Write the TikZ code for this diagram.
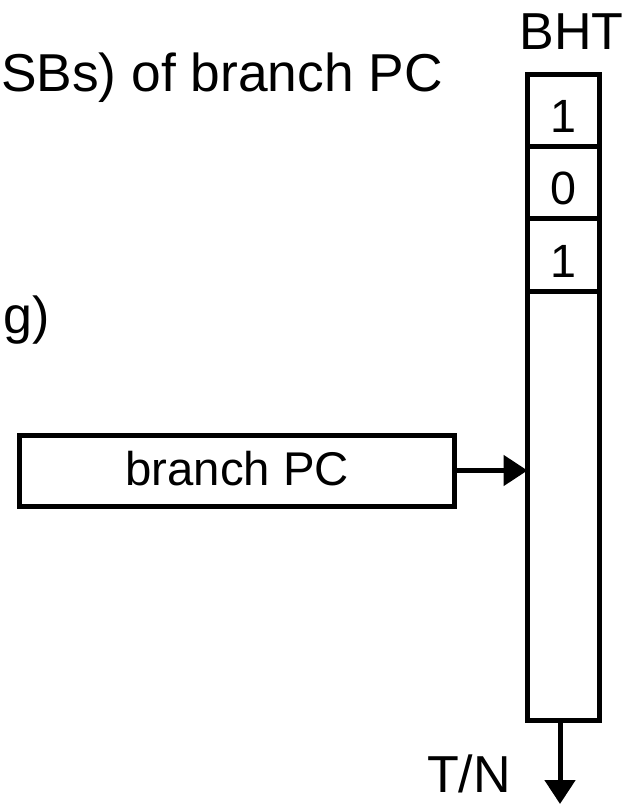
\documentclass[tikz,border=0pt]{standalone}
\usepackage{fontspec}
\setmainfont{Liberation Sans}
\usepackage{tikz}
\usetikzlibrary{arrows.meta,positioning}

\begin{document}
\begin{tikzpicture}[x=0.75pt,y=0.75pt,yscale=-1,xscale=1,
  bigtext/.style={inner sep=0pt,font=\fontsize{39pt}{44pt}\selectfont},
  celltext/.style={font=\fontsize{35pt}{40pt}\selectfont},
  cellbox/.style={draw,line width=3.75pt,minimum width=54pt,minimum height=54pt,
    inner sep=0pt,outer sep=0pt,celltext,text height=33pt,text depth=0pt},
  wire/.style={line width=3.75pt,-{Triangle[length=18pt,width=22.5pt]}}]
%set diagram size 635 x 805
\useasboundingbox (0,0) rectangle (635,805);
\clip (0,0) rectangle (635,805);

%Shape: BHT column
\node[cellbox] (c1) at (563.5,111) {1};
\node[cellbox,below=0pt of c1] (c2) {0};
\node[cellbox,below=0pt of c2] (c3) {1};
\node[cellbox,below=0pt of c3,minimum height=321.75pt] (bht) {};

%Shape: branch PC box
\node[draw,line width=3.75pt,minimum width=325.9pt,minimum height=53.25pt,
  inner sep=0pt,outer sep=0pt,font=\fontsize{35.5pt}{40pt}\selectfont,
  text height=21.75pt,text depth=0pt] (pc) at (237.25,470.5) {branch PC};

% Text Node
\node[bigtext,anchor=base] (bhtlbl) at (571.5,50) {BHT};
% Text Node
\node[bigtext,anchor=base east,font=\fontsize{40pt}{44pt}\selectfont] (lsb) at (443,92) {SBs) of branch PC};
% Text Node
\node[bigtext,anchor=base east] (idx) at (50,333) {g)};
% Text Node
\node[bigtext,anchor=base] (tn) at (469,792) {T/N};

%Arrows
\coordinate (tnend) at (560,804);
\draw[wire] (pc.east) -- (pc.east -| bht.west);
\draw[wire] (bht.south -| tnend) -- (tnend);

\end{tikzpicture}
\end{document}
